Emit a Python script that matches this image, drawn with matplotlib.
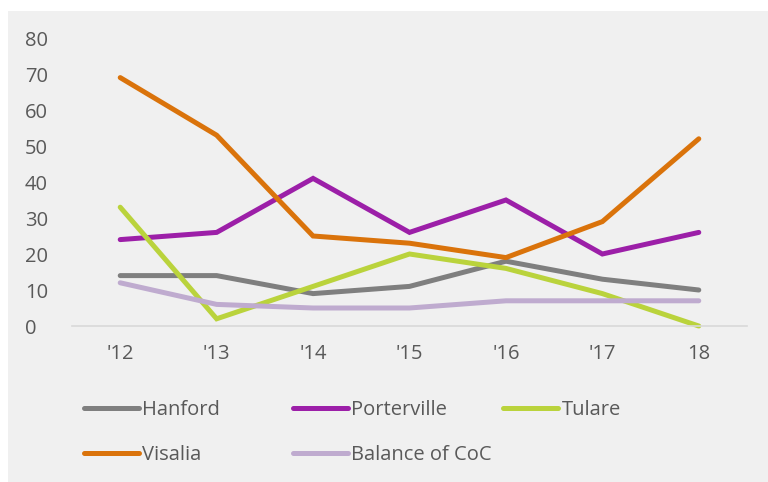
import matplotlib.pyplot as plt
from matplotlib.patches import Rectangle

# data
years = ["'12", "'13", "'14", "'15", "'16", "'17", "18"]
hanford = [14, 14, 9, 11, 18, 13, 10]
porterville = [24, 26, 41, 26, 35, 20, 26]
tulare = [33, 2, 11, 20, 16, 9, 0]
visalia = [69, 53, 25, 23, 19, 29, 52]
balance = [12, 6, 5, 5, 7, 7, 7]

names = ["Hanford", "Porterville", "Tulare", "Visalia", "Balance of CoC"]
colors = ["#7f7f7f", "#9c1fa8", "#bad33c", "#da730b", "#bfabcf"]
series = [hanford, porterville, tulare, visalia, balance]

plt.rcParams['font.family'] = ['Open Sans', 'DejaVu Sans']
txt = "#595959"
fs = 14.5

fig = plt.figure(figsize=(7.68, 4.82), dpi=100)
fig.patch.set_facecolor("white")
fig.patches.append(Rectangle((8 / 768, 0), 1, 1 - 11 / 482, transform=fig.transFigure,
                             facecolor="#f0f0f0", edgecolor="none", zorder=-10))

ax = fig.add_axes([72 / 768, 1 - 326 / 482, (747 - 72) / 768, (326 - 38) / 482])
ax.set_facecolor("none")

x = list(range(len(years)))
lines = []
for vals, c, n in zip(series, colors, names):
    ln, = ax.plot(x, vals, color=c, lw=3.6, solid_capstyle="round",
                  solid_joinstyle="miter", label=n, clip_on=False)
    lines.append(ln)

ax.set_xlim(-0.5, 6.5)
ax.set_ylim(0, 80)
ax.set_yticks(range(0, 81, 10))
ax.set_xticks(x)
ax.set_xticklabels(years)
for s in ["top", "right", "left"]:
    ax.spines[s].set_visible(False)
ax.spines["bottom"].set_color("#d9d9d9")
ax.spines["bottom"].set_linewidth(1.2)
ax.tick_params(axis="both", length=0, labelsize=fs, colors=txt)
ax.tick_params(axis="x", pad=13)
for lab in ax.get_yticklabels():
    lab.set_horizontalalignment("left")
ax.tick_params(axis="y", pad=34)

# legend: fixed-width columns, two rows
pos = [(84, 410), (293, 410), (503, 410), (84, 455), (293, 455)]
for ln, (px, py) in zip(lines, pos):
    lg = fig.legend([ln], [ln.get_label()], loc="center left",
                    bbox_to_anchor=(px / 768, 1 - py / 482), frameon=False,
                    handlelength=2.75, handletextpad=0.15, borderpad=0,
                    borderaxespad=0, fontsize=fs, labelcolor=txt)

fig.savefig("out.png", dpi=100)
